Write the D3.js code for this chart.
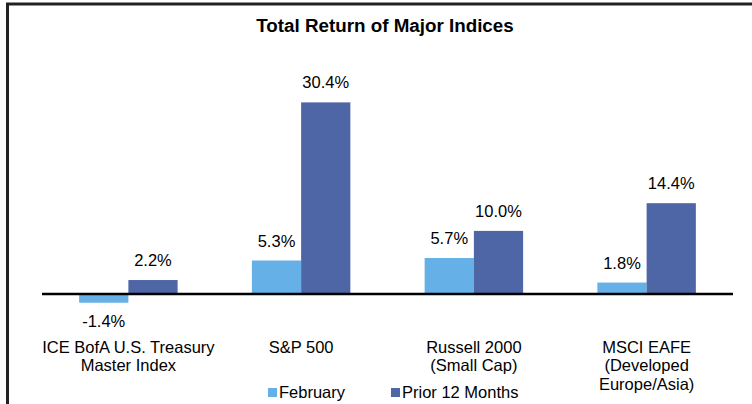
<!DOCTYPE html>
<html>
<head>
<meta charset="utf-8">
<script src="https://cdn.jsdelivr.net/npm/d3@7"></script>
<style>
  html, body { margin: 0; padding: 0; background: #fff; }
  svg { display: block; font-family: "Liberation Sans", Arial, sans-serif; }
</style>
</head>
<body>
<svg id="chart" width="752" height="404"></svg>
<script>
const title = "Total Return of Major Indices";
const categories = [
  ["ICE BofA U.S. Treasury", "Master Index"],
  ["S&P 500"],
  ["Russell 2000", "(Small Cap)"],
  ["MSCI EAFE", "(Developed", "Europe/Asia)"]
];
const seriesNames = ["February", "Prior 12 Months"];
const february = [-1.4, 5.3, 5.7, 1.8];
const prior12 = [2.2, 30.4, 10.0, 14.4];
const colors = ["#65B0E6", "#4F66A6"];

const svg = d3.select("#chart");
const W = 752, H = 404;

// frame (left and top border)
svg.append("path")
  .attr("d", `M7.5,${H} L7.5,4 L${W},4`)
  .attr("fill", "none").attr("stroke", "#222").attr("stroke-width", 3);

svg.append("text")
  .attr("x", 385).attr("y", 32)
  .attr("text-anchor", "middle")
  .attr("font-size", 18.8).attr("font-weight", "bold").attr("fill", "#000")
  .text(title);

const x0 = d3.scaleBand().domain(d3.range(categories.length)).range([42, 733]).paddingInner(0.43).paddingOuter(0.215);
const x1 = d3.scaleBand().domain([0, 1]).range([0, x0.bandwidth()]);
const y = d3.scaleLinear().domain([-5, 35]).range([325.4, 73.4]);

const data = categories.map((c, i) => ({ i, vals: [february[i], prior12[i]] }));

const g = svg.append("g");
const groups = g.selectAll("g.grp").data(data).join("g")
  .attr("transform", d => `translate(${x0(d.i)},0)`);

groups.selectAll("rect").data(d => d.vals.map((v, s) => ({ v, s }))).join("rect")
  .attr("x", d => x1(d.s))
  .attr("width", x1.bandwidth())
  .attr("y", d => y(Math.max(0, d.v)))
  .attr("height", d => Math.abs(y(d.v) - y(0)))
  .attr("fill", d => colors[d.s]);

groups.selectAll("text.val").data(d => d.vals.map((v, s) => ({ v, s }))).join("text")
  .attr("class", "val")
  .attr("x", d => x1(d.s) + x1.bandwidth() / 2)
  .attr("y", d => d.v >= 0 ? y(d.v) - 14 : y(d.v) + 24)
  .attr("text-anchor", "middle")
  .attr("font-size", 16.5).attr("fill", "#000")
  .text(d => d.v.toFixed(1) + "%");

// zero axis line
svg.append("line")
  .attr("x1", 42).attr("x2", 733)
  .attr("y1", y(0)).attr("y2", y(0))
  .attr("stroke", "#000").attr("stroke-width", 2.5);

// category labels
const labelG = svg.append("g");
categories.forEach((lines, i) => {
  const t = labelG.append("text")
    .attr("x", x0(i) + x0.bandwidth() / 2)
    .attr("y", 352.5)
    .attr("text-anchor", "middle")
    .attr("font-size", 16.5).attr("fill", "#000");
  lines.forEach((ln, k) => {
    t.append("tspan").attr("x", x0(i) + x0.bandwidth() / 2).attr("dy", k === 0 ? 0 : 18.5).text(ln);
  });
});

// legend
const legendX = [268, 391];
seriesNames.forEach((name, s) => {
  svg.append("rect").attr("x", legendX[s]).attr("y", 388).attr("width", 9).attr("height", 9).attr("fill", colors[s]);
  svg.append("text").attr("x", legendX[s] + 11).attr("y", 398)
    .attr("font-size", 16.5).attr("fill", "#000").text(name);
});
</script>
</body>
</html>
